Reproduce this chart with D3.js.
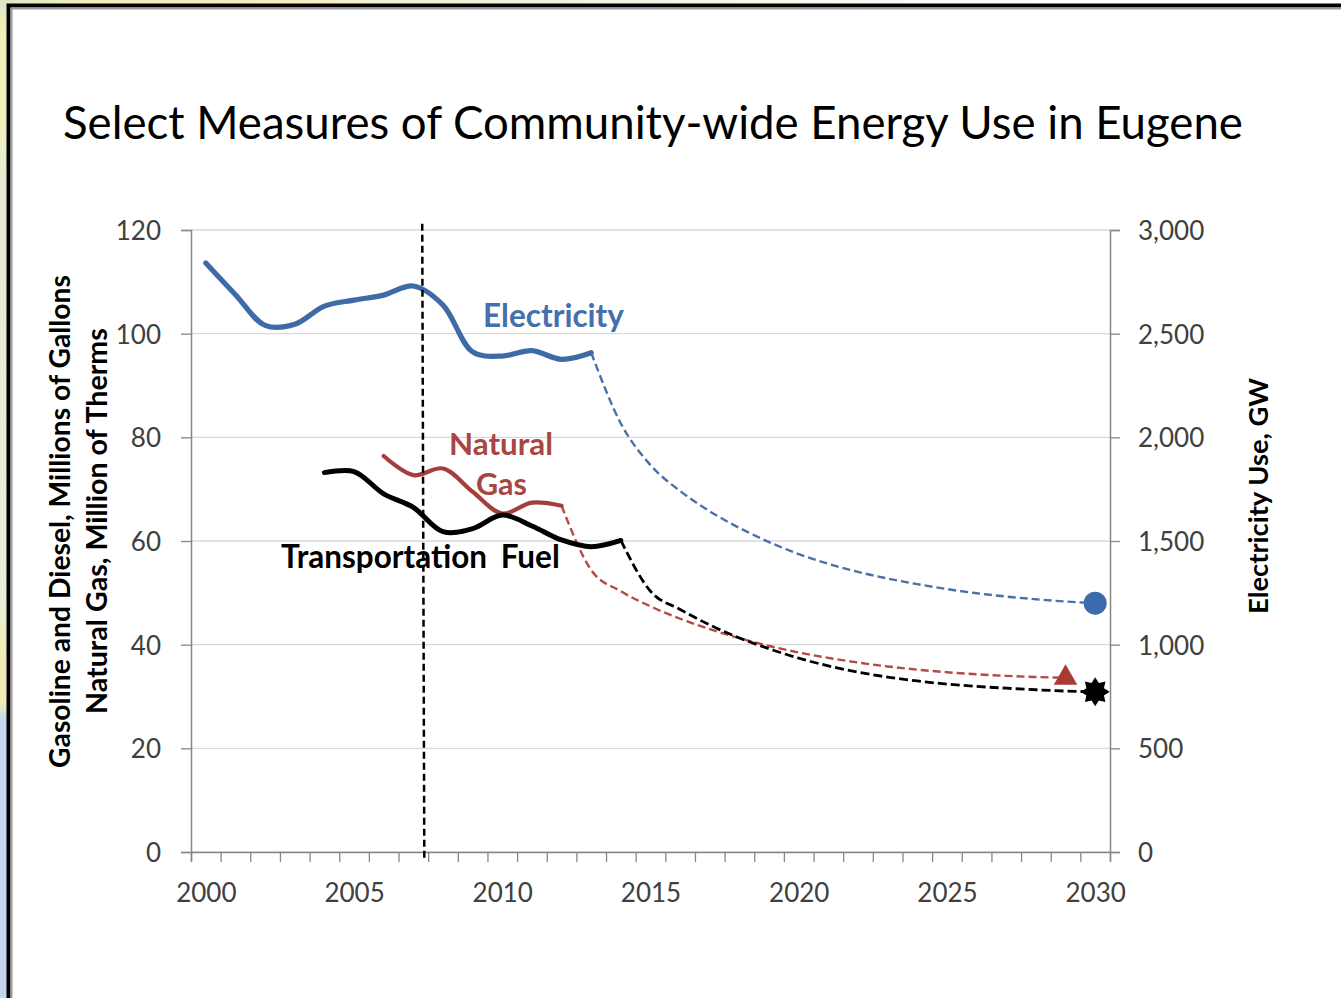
<!DOCTYPE html>
<html><head><meta charset="utf-8">
<script src="https://cdn.jsdelivr.net/npm/d3@7"></script>
<style>html,body{margin:0;padding:0;overflow:hidden;background:#fff}</style>
</head><body>
<svg id="c" width="1341" height="998"></svg>
<script>
// ---------------- DATA ----------------
const xTickLabels = [2000, 2005, 2010, 2015, 2020, 2025, 2030];
const leftTicks = [0, 20, 40, 60, 80, 100, 120];
const rightTicks = [0, 500, 1000, 1500, 2000, 2500, 3000];

const elecYears = [2000,2001,2002,2003,2004,2005,2006,2007,2008,2009,2010,2011,2012,2013];
const elecValues = [2841,2688,2540,2545,2633,2662,2686,2730,2638,2412,2392,2418,2376,2408];
const elecProjYears = [2013,2014,2015,2016,2017,2018,2019,2020,2021,2022,2023,2024,2025,2026,2027,2028,2029,2030];
const elecProjValues = [2408,2067,1866,1741,1643,1563,1495,1437,1390,1351,1319,1292,1268,1248,1232,1219,1208,1200];

const gasYears = [2006,2007,2008,2009,2010,2011,2012];
const gasValues = [76.4,72.7,74.0,69.5,65.3,67.4,66.8];
const gasProjYears = [2012,2013,2014,2015,2016,2017,2018,2019,2020,2021,2022,2023,2024,2025,2026,2027,2028,2029];
const gasProjValues = [66.8,54.4,50.3,47.4,45.0,43.0,41.25,39.75,38.5,37.45,36.55,35.8,35.18,34.68,34.28,33.98,33.76,33.61];

const fuelYears = [2004,2005,2006,2007,2008,2009,2010,2011,2012,2013,2014];
const fuelValues = [73.2,73.4,69.1,66.5,61.8,62.4,65.0,62.9,60.2,58.9,60.1];
const fuelProjYears = [2014,2015,2016,2017,2018,2019,2020,2021,2022,2023,2024,2025,2026,2027,2028,2029,2030];
const fuelProjValues = [60.1,50.3,46.8,43.8,41.3,39.2,37.4,35.9,34.7,33.75,33.0,32.4,31.95,31.6,31.3,31.05,30.9];

const markerElec = [2030, 1200];
const markerGas = [2029, 33.6];
const markerFuel = [2030, 30.9];

const vLineX = [2007.30, 2007.37];
const vLineY = [121.2, -1.5];

// ---------------- LAYOUT ----------------
const W = 1341, H = 998;
const L = 191, R = 1110, T = 230, B = 852;
const svg = d3.select('#c');
const FONT = "Lato, 'Open Sans', sans-serif";

const x = d3.scaleLinear().domain([1999.5, 2030.5]).range([L, R]);
const yL = d3.scaleLinear().domain([0, 120]).range([B, T]);
const yR = d3.scaleLinear().domain([0, 3000]).range([B, T]);

// background (slide behind the frame)
const defs = svg.append('defs');
const gv = defs.append('linearGradient').attr('id','gv').attr('x1',0).attr('y1',0).attr('x2',0).attr('y2',1);
[[0,'#dbe8c6'],[0.03,'#f1eeb8'],[0.12,'#f3efbb'],[0.18,'#e3ecd2'],[0.6,'#e6eed6'],[0.655,'#f2ebb6'],[0.705,'#f0e9b8'],[0.72,'#c4d9ee'],[1,'#c2d7ee']]
  .forEach(s => gv.append('stop').attr('offset', s[0]).attr('stop-color', s[1]));
const gh = defs.append('linearGradient').attr('id','gh').attr('x1',0).attr('y1',0).attr('x2',1).attr('y2',0);
[[0,'#dbe8c6'],[0.06,'#f2eebb'],[0.22,'#f4f0c4'],[0.4,'#eef3e0'],[0.8,'#ffffff'],[1,'#ffffff']]
  .forEach(s => gh.append('stop').attr('offset', s[0]).attr('stop-color', s[1]));
svg.append('rect').attr('x',0).attr('y',0).attr('width',W).attr('height',H).attr('fill','url(#gv)');
svg.append('rect').attr('x',0).attr('y',0).attr('width',W).attr('height',6).attr('fill','url(#gh)');

// frame
svg.append('rect').attr('x',8.5).attr('y',5.5).attr('width',W+20).attr('height',H+20)
  .attr('fill','#fff').attr('stroke','#000').attr('stroke-width',4);
svg.append('rect').attr('x',11.5).attr('y',8.5).attr('width',W+20).attr('height',H+20)
  .attr('fill','none').attr('stroke','#9a9a9a').attr('stroke-width',2);

function fit(sel, target) {
  const len = sel.node().getComputedTextLength();
  const fs = parseFloat(sel.attr('font-size'));
  sel.attr('font-size', (fs * target / len).toFixed(2));
  return sel;
}

// title
fit(svg.append('text').attr('x', 63).attr('y', 139).attr('font-family', FONT).attr('font-size', 40)
  .attr('fill', '#000').text('Select Measures of Community-wide Energy Use in Eugene'), 1180);

// gridlines
svg.append('g').selectAll('line').data(leftTicks).join('line')
  .attr('x1', L).attr('x2', R).attr('y1', d => yL(d)).attr('y2', d => yL(d))
  .attr('stroke', '#d9d9d9').attr('stroke-width', 1.3);

// axes
const axisColor = '#868686';
const gLeft = svg.append('g').attr('transform', `translate(${L},0)`)
  .call(d3.axisLeft(yL).tickValues(leftTicks).tickSize(10).tickPadding(20));
const gRight = svg.append('g').attr('transform', `translate(${R},0)`)
  .call(d3.axisRight(yR).tickValues(rightTicks).tickSize(10).tickPadding(18).tickFormat(d3.format(',')));
const boundaries = d3.range(1999.5, 2031, 1);
const gBottom = svg.append('g').attr('transform', `translate(0,${B})`)
  .call(d3.axisBottom(x).tickValues(boundaries).tickSize(10).tickFormat(''));
const gBottomLab = svg.append('g').attr('transform', `translate(0,${B})`)
  .call(d3.axisBottom(x).tickValues(xTickLabels).tickSize(0).tickPadding(0).tickFormat(d3.format('d')));
[gLeft, gRight, gBottom, gBottomLab].forEach(g => {
  g.select('.domain').attr('stroke', axisColor).attr('stroke-width', 1.5);
  g.selectAll('.tick line').attr('stroke', axisColor).attr('stroke-width', 1.3);
  g.selectAll('text').attr('font-family', FONT).attr('font-size', 26).attr('fill', '#404040');
});
gBottomLab.select('.domain').remove();
gBottomLab.selectAll('text').attr('y', 50).attr('dy', 0);
gLeft.selectAll('text').attr('dy', '0.36em');
gRight.selectAll('text').attr('dy', '0.36em');

// axis titles
const axT = (tx, ty, txt, w) => fit(svg.append('text')
  .attr('transform', `translate(${tx},${ty}) rotate(-90)`).attr('text-anchor', 'middle')
  .attr('font-family', FONT).attr('font-weight', 'bold').attr('font-size', 24).attr('fill', '#000').text(txt), w);
axT(70, 521.5, 'Gasoline and Diesel, Millions of Gallons', 493);
axT(107, 521, 'Natural Gas, Million of Therms', 386);
axT(1268, 496, 'Electricity Use, GW', 236);

// lines
const mk = (ys) => d3.line().x(d => x(d[0])).y(d => ys(d[1])).curve(d3.curveCatmullRom.alpha(0.5));
const mkP = (ys) => d3.line().x(d => x(d[0])).y(d => ys(d[1])).curve(d3.curveMonotoneX);
const elecC = '#3e6ba6', gasC = '#a43e3d', fuelC = '#000';

svg.append('path').datum(d3.zip(gasProjYears, gasProjValues)).attr('d', mkP(yL))
  .attr('fill','none').attr('stroke','#b44a48').attr('stroke-width',2.4).attr('stroke-dasharray','8,4');
svg.append('path').datum(d3.zip(fuelProjYears, fuelProjValues)).attr('d', mkP(yL))
  .attr('fill','none').attr('stroke',fuelC).attr('stroke-width',2.8).attr('stroke-dasharray','9,4');
svg.append('path').datum(d3.zip(elecProjYears, elecProjValues)).attr('d', mkP(yR))
  .attr('fill','none').attr('stroke','#4a70a6').attr('stroke-width',2.4).attr('stroke-dasharray','8,4');

svg.append('path').datum(d3.zip(gasYears, gasValues)).attr('d', mk(yL))
  .attr('fill','none').attr('stroke',gasC).attr('stroke-width',4.2).attr('stroke-linecap','round');
svg.append('path').datum(d3.zip(fuelYears, fuelValues)).attr('d', mk(yL))
  .attr('fill','none').attr('stroke',fuelC).attr('stroke-width',5).attr('stroke-linecap','round');
svg.append('path').datum(d3.zip(elecYears, elecValues)).attr('d', mk(yR))
  .attr('fill','none').attr('stroke',elecC).attr('stroke-width',5.2).attr('stroke-linecap','round');

// markers
svg.append('circle').attr('cx', x(markerElec[0])).attr('cy', yR(markerElec[1])).attr('r', 11.5).attr('fill', '#3b6aad');
svg.append('path').attr('d', d3.symbol(d3.symbolTriangle, 240)())
  .attr('transform', `translate(${x(markerGas[0])},${yL(markerGas[1])})`).attr('fill', '#a93a36');
const starPts = d3.range(16).map(i => [i * Math.PI / 8, i % 2 === 0 ? 14.5 : 9.5]);
svg.append('path').attr('d', d3.lineRadial().curve(d3.curveLinearClosed)(starPts))
  .attr('transform', `translate(${x(markerFuel[0])},${yL(markerFuel[1])})`).attr('fill', '#000');

// vertical dashed line
svg.append('line').attr('x1', x(vLineX[0])).attr('y1', yL(vLineY[0])).attr('x2', x(vLineX[1])).attr('y2', yL(vLineY[1]))
  .attr('stroke', '#000').attr('stroke-width', 2.5).attr('stroke-dasharray', '7,4');

// series labels
fit(svg.append('text').attr('x', 483).attr('y', 327).attr('font-family', FONT).attr('font-weight', 'bold')
  .attr('font-size', 28).attr('fill', '#4670ab').text('Electricity'), 141);
fit(svg.append('text').attr('x', 501).attr('y', 455).attr('text-anchor','middle').attr('font-family', FONT).attr('font-weight', 'bold')
  .attr('font-size', 28).attr('fill', '#a84644').text('Natural'), 104);
fit(svg.append('text').attr('x', 501.5).attr('y', 495).attr('text-anchor','middle').attr('font-family', FONT).attr('font-weight', 'bold')
  .attr('font-size', 28).attr('fill', '#a84644').text('Gas'), 51);
fit(svg.append('text').attr('x', 281).attr('y', 568).attr('font-family', FONT).attr('font-weight', 'bold')
  .attr('font-size', 26).attr('word-spacing', 6).attr('fill', '#000').text('Transportation Fuel'), 280);
</script>
</body></html>
